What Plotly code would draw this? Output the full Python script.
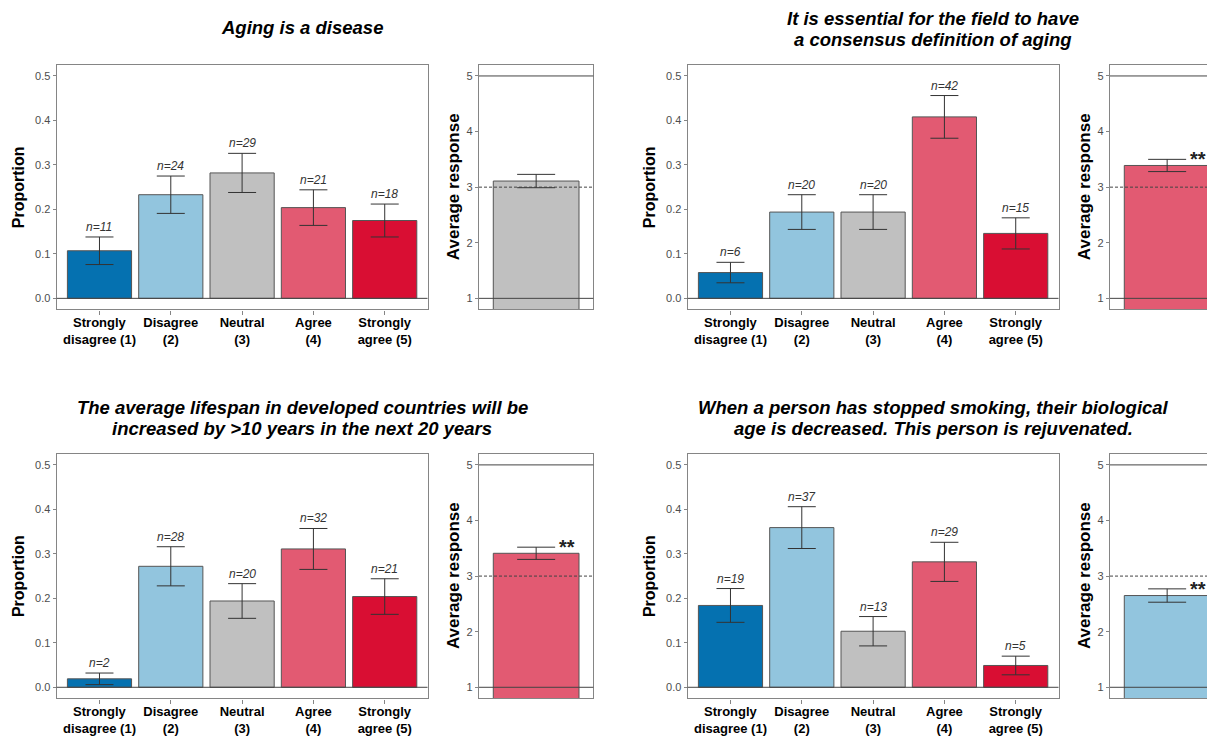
import plotly.graph_objects as go

# page is 1215x736; the plot div sits 8px in from the page's top-left corner
PAGE_W, PAGE_H = 1215, 736
SH = 8
W, H = PAGE_W - SH, PAGE_H - SH

categories = ["Strongly<br>disagree (1)", "Disagree<br>(2)", "Neutral<br>(3)", "Agree<br>(4)", "Strongly<br>agree (5)"]
colors = ["#0571B0", "#92C5DE", "#C0C0C0", "#E25A72", "#D90E33"]

titles = [
    "Aging is a disease",
    "It is essential for the field to have<br>a consensus definition of aging",
    "The average lifespan in developed countries will be<br>increased by >10 years in the next 20 years",
    "When a person has stopped smoking, their biological<br>age is decreased. This person is rejuvenated.",
]

n1 = [11, 24, 29, 21, 18]
n2 = [6, 20, 20, 42, 15]
n3 = [2, 28, 20, 32, 21]
n4 = [19, 37, 13, 29, 5]

p1 = [0.107, 0.233, 0.282, 0.204, 0.175]
p2 = [0.058, 0.194, 0.194, 0.408, 0.146]
p3 = [0.019, 0.272, 0.194, 0.311, 0.204]
p4 = [0.184, 0.359, 0.126, 0.282, 0.049]

se1 = [0.031, 0.042, 0.044, 0.040, 0.037]
se2 = [0.023, 0.039, 0.039, 0.048, 0.035]
se3 = [0.013, 0.044, 0.039, 0.046, 0.040]
se4 = [0.038, 0.047, 0.033, 0.044, 0.021]

avg = [3.11, 3.39, 3.41, 2.65]
avg_se = [0.12, 0.11, 0.11, 0.12]
avg_color_index = [2, 3, 3, 1]
stars = ["", "**", "**", "**"]

counts = [n1, n2, n3, n4]
props = [p1, p2, p3, p4]
ses = [se1, se2, se3, se4]

# panel geometry in page pixels
offsets = [(0, 0), (631, 0), (0, 390), (631, 390)]
BAR_X = (56.7, 427.5)
AVG_X = (479.0, 593.3)
PAN_Y = (65.0, 310.3)

FONT = "Liberation Sans, Arial, sans-serif"
FRAME = "#858585"
TICKC = "#4d4d4d"

fig = go.Figure()
layout = {}
shapes = []
annotations = []


def px_x(v):
    return (v - SH) / W


def px_y(v):
    return 1 - (v - SH) / H


x_idx = [1, 2, 3, 4, 5]

for k in range(4):
    ox, oy = offsets[k]
    bi = 2 * k + 1
    ai = 2 * k + 2
    bx = "x" if bi == 1 else f"x{bi}"
    by = "y" if bi == 1 else f"y{bi}"
    ax = f"x{ai}"
    ay = f"y{ai}"

    # bar panel
    fig.add_trace(go.Bar(
        x=x_idx, y=props[k], width=0.9,
        marker=dict(color=colors, line=dict(color="#555555", width=1)),
        error_y=dict(type="data", array=ses[k], visible=True, color="#333333", thickness=1, width=14),
        xaxis=bx, yaxis=by, showlegend=False, hoverinfo="skip",
    ))
    for i in range(5):
        annotations.append(dict(
            x=x_idx[i], y=props[k][i] + ses[k][i], xref=bx, yref=by,
            text=f"<i>n={counts[k][i]}</i>", showarrow=False, yanchor="bottom", yshift=1,
            font=dict(family=FONT, size=12, color="#333333"),
        ))

    y0 = px_y(PAN_Y[1] + oy)
    y1 = px_y(PAN_Y[0] + oy)
    layout[("xaxis" if bi == 1 else f"xaxis{bi}")] = dict(
        domain=[px_x(BAR_X[0] + ox), px_x(BAR_X[1] + ox)], anchor=by,
        range=[0.4, 5.6], tickvals=x_idx, ticktext=[f"<b>{c}</b>" for c in categories],
        tickfont=dict(family=FONT, size=13, color="black"),
        showline=True, mirror=True, linecolor=FRAME, linewidth=1.3,
        ticks="outside", ticklen=4, tickcolor=FRAME, ticklabelstandoff=-3,
        showgrid=False, zeroline=False, fixedrange=True,
    )
    layout[("yaxis" if bi == 1 else f"yaxis{bi}")] = dict(
        domain=[y0, y1], anchor=bx, range=[-0.025, 0.525],
        tickvals=[0, 0.1, 0.2, 0.3, 0.4, 0.5], ticktext=["0.0", "0.1", "0.2", "0.3", "0.4", "0.5"],
        tickfont=dict(family=FONT, size=11, color=TICKC),
        showline=True, mirror=True, linecolor=FRAME, linewidth=1.3,
        ticks="outside", ticklen=3, tickcolor=FRAME, showgrid=False, zeroline=False, fixedrange=True,
    )
    shapes.append(dict(type="line", xref=f"{bx} domain", yref=by, x0=0, x1=1, y0=0, y1=0,
                       line=dict(color="#444444", width=1)))

    # average panel
    ax_left = AVG_X[0] + ox
    ax_right = AVG_X[1] + ox
    ppu = (AVG_X[1] - AVG_X[0]) / 1.2
    xr_right = 1.6
    clipped = False
    if ax_right > PAGE_W:
        xr_right = 0.4 + (PAGE_W - ax_left) / ppu
        ax_right = PAGE_W
        clipped = True
    ci = avg_color_index[k]
    fig.add_trace(go.Bar(
        x=[1], y=[avg[k]], width=0.9,
        marker=dict(color=colors[ci], line=dict(color="#555555", width=1)),
        error_y=dict(type="data", array=[avg_se[k]], visible=True, color="#333333", thickness=1, width=19),
        xaxis=ax, yaxis=ay, showlegend=False, hoverinfo="skip",
    ))
    layout[f"xaxis{ai}"] = dict(
        domain=[px_x(ax_left), px_x(ax_right)], anchor=ay, range=[0.4, xr_right],
        showticklabels=False, ticks="", showline=True, mirror=True, linecolor=FRAME, linewidth=1.3,
        showgrid=False, zeroline=False, fixedrange=True,
    )
    layout[f"yaxis{ai}"] = dict(
        domain=[y0, y1], anchor=ax, range=[0.8, 5.2],
        tickvals=[1, 2, 3, 4, 5], tickfont=dict(family=FONT, size=11, color=TICKC),
        showline=True, mirror=(not clipped), linecolor=FRAME, linewidth=1.3,
        ticks="outside", ticklen=3, tickcolor=FRAME, showgrid=False, zeroline=False, fixedrange=True,
    )
    for yv, dash in [(1, "solid"), (5, "solid"), (3, "3px,2px")]:
        shapes.append(dict(type="line", xref=f"{ax} domain", yref=ay, x0=0, x1=1, y0=yv, y1=yv,
                           line=dict(color="#444444", width=1, dash=dash)))
    if stars[k]:
        annotations.append(dict(
            x=1.32, y=avg[k] + avg_se[k], xref=ax, yref=ay, text=f"<b>{stars[k]}</b>",
            showarrow=False, xanchor="center", yanchor="middle",
            font=dict(family=FONT, size=20, color="#222222"),
        ))

    # titles (each line placed separately for tighter line spacing)
    lines = titles[k].split("<br>")
    if len(lines) == 1:
        ys = [28]
    else:
        ys = [19, 40]
    for line, ty in zip(lines, ys):
        annotations.append(dict(
            x=px_x(302 + ox), y=px_y(ty + oy), xref="paper", yref="paper",
            text=f"<b><i>{line}</i></b>", showarrow=False, xanchor="center", yanchor="middle",
            font=dict(family=FONT, size=18.5, color="black"),
        ))
    annotations.append(dict(
        x=px_x(18 + ox), y=px_y((PAN_Y[0] + PAN_Y[1]) / 2 + oy), xref="paper", yref="paper",
        text="<b>Proportion</b>", textangle=-90, showarrow=False, xanchor="center", yanchor="middle",
        font=dict(family=FONT, size=16, color="black"),
    ))
    annotations.append(dict(
        x=px_x(453 + ox), y=px_y((PAN_Y[0] + PAN_Y[1]) / 2 + oy), xref="paper", yref="paper",
        text="<b>Average response</b>", textangle=-90, showarrow=False, xanchor="center", yanchor="middle",
        font=dict(family=FONT, size=17, color="black"),
    ))

fig.update_layout(
    width=W, height=H, margin=dict(l=0, r=0, t=0, b=0),
    paper_bgcolor="white", plot_bgcolor="white",
    shapes=shapes, annotations=annotations, showlegend=False,
    font=dict(family=FONT),
    **layout,
)

fig.write_html("out.html", config={"displayModeBar": False})
